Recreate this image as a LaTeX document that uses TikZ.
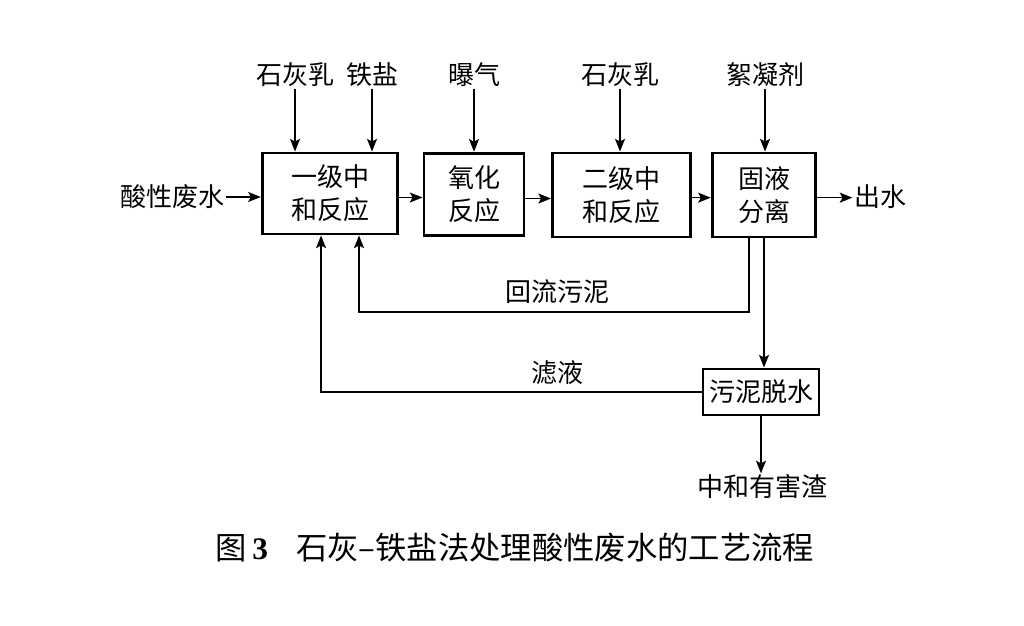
\documentclass[tikz,border=0pt]{standalone}
\usepackage{fontspec}
\setmainfont{Noto Sans CJK SC}
\newfontfamily\numfont{Liberation Serif}
\usetikzlibrary{arrows.meta,positioning}

\begin{document}
\begin{tikzpicture}[x=0.75pt,y=-0.75pt,
    box/.style={draw, line width=2.2pt, inner sep=0pt, align=center, font=\fontsize{19.5}{25}\selectfont},
    lbl/.style={inner sep=1pt, font=\fontsize{19.5}{25}\selectfont},
    flow/.style={-{Stealth[length=9.5pt,width=7.5pt,inset=2pt]}, line width=1pt}]

	\useasboundingbox (0,0) rectangle (1024,625);

	% process units
	\node [box, minimum width=101.6pt, minimum height=60.75pt] (zh1) at (330,193.5) {一级中\\和反应};
	\node [box, minimum width=75pt, minimum height=62pt] (ox) at (474,194.5) {氧化\\反应};
	\node [box, minimum width=103.5pt, minimum height=63pt] (zh2) at (621.5,195) {二级中\\和反应};
	\node [box, minimum width=77.6pt, minimum height=63pt] (gy) at (764,195) {固液\\分离};
	\node [box, minimum width=87pt, minimum height=34.5pt] (ts) at (761,392) {污泥脱水};

	% dosing
	\node [lbl] (lime1) at (295,75) {石灰乳};
	\node [lbl] (salt) at (372,75) {铁盐};
	\node [lbl] (air) at (474,75) {曝气};
	\node [lbl] (lime2) at (620,75) {石灰乳};
	\node [lbl] (floc) at (765,75) {絮凝剂};

	\node [lbl] (in) at (172,197) {酸性废水};
	\node [lbl] (out) at (880,197) {出水};
	\node [lbl] (slag) at (762,487) {中和有害渣};
	\node [lbl] (retlbl) at (557,292) {回流污泥};
	\node [lbl] (fillbl) at (557,373) {滤液};

	\draw [flow] (lime1.south) -- (lime1.south |- zh1.north);
	\draw [flow] (salt.south) -- (salt.south |- zh1.north);
	\draw [flow] (air.south) -- (air.south |- ox.north);
	\draw [flow] (lime2.south) -- (lime2.south |- zh2.north);
	\draw [flow] (floc.south) -- (floc.south |- gy.north);

	% main line
	\draw [flow] (in.east) -- (in.east -| zh1.west);
	\draw [flow] ([yshift=-3pt]zh1.east) -- ([yshift=-3pt]zh1.east -| ox.west);
	\draw [flow] ([yshift=-3pt]ox.east) -- ([yshift=-3pt]ox.east -| zh2.west);
	\draw [flow] ([yshift=-2pt]zh2.east) -- ([yshift=-2pt]zh2.east -| gy.west);
	\draw [flow] ([yshift=-2pt]gy.east) -- ([yshift=-2pt]gy.east -| out.west);

	% sludge lines
	\coordinate (ret) at (359,312);
	\coordinate (fil) at (321,392);
	\draw [flow] ([xshift=-11.25pt]gy.south) |- (ret) -- (ret |- zh1.south);
	\draw [flow] (gy.south) -- (gy.south |- ts.north);
	\draw [flow] (ts.west) -- (fil) -- (fil |- zh1.south);
	\draw [flow] (ts.south) -- (ts.south |- slag.north);

	\node [font=\fontsize{23.5}{28}\selectfont] (cap) at (515,548) {图\,{\numfont\bfseries 3}\hspace{0.9em}石灰–铁盐法处理酸性废水的工艺流程};

\end{tikzpicture}
\end{document}
